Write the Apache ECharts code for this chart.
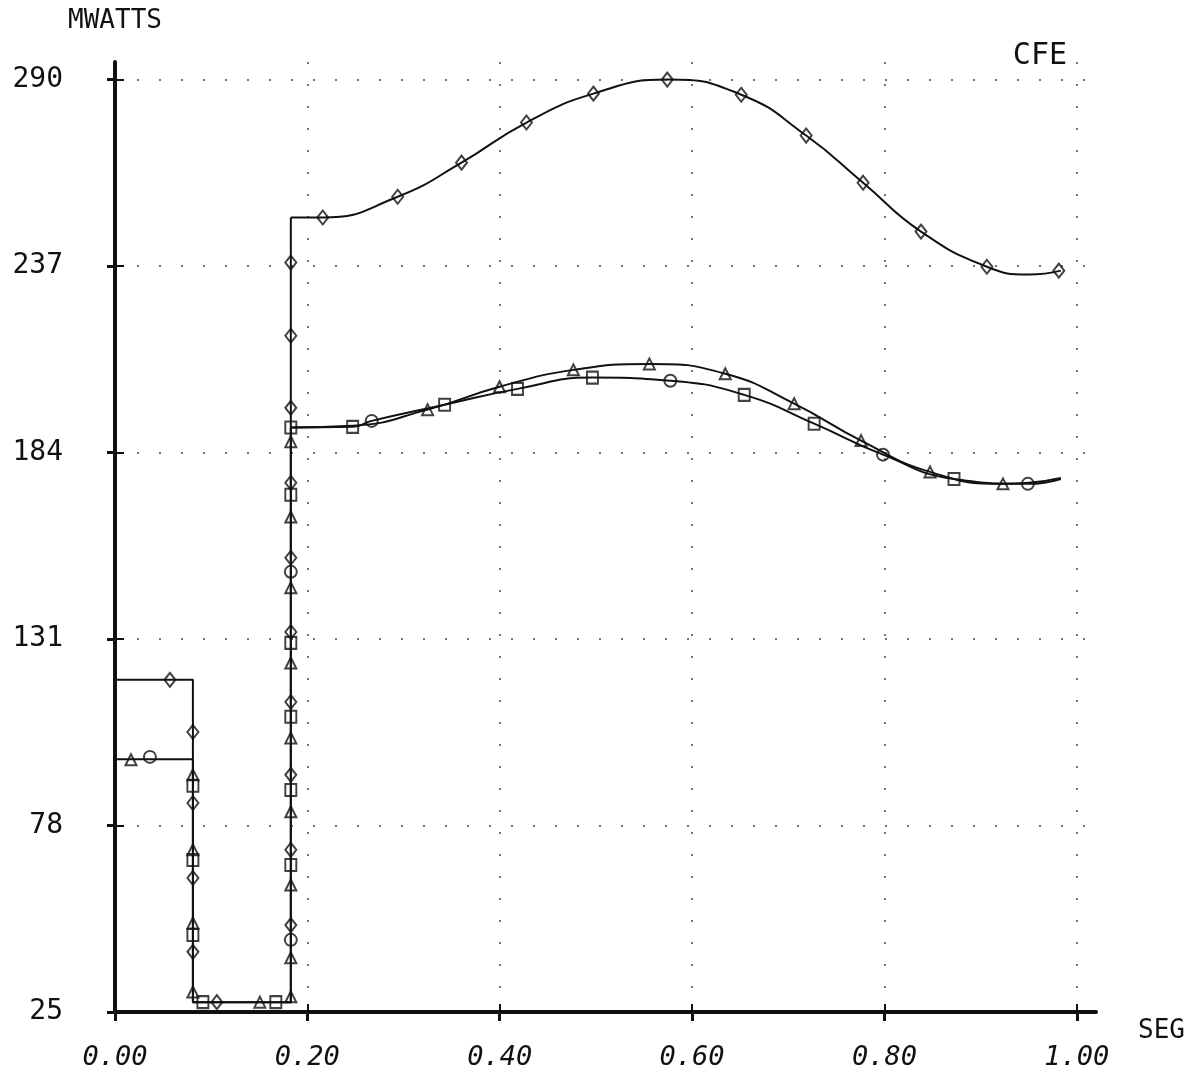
<!DOCTYPE html>
<html>
<head>
<meta charset="utf-8">
<script src="https://cdn.jsdelivr.net/npm/echarts@6/dist/echarts.min.js"></script>
<style>
html,body{margin:0;padding:0;background:#fff;}
#chart{width:1188px;height:1075px;}
</style>
</head>
<body>
<div id="chart"></div>
<script>
// ---- tick labels ----
const xTicks = [0, 0.2, 0.4, 0.6, 0.8, 1.0];
const yTicks = [25, 78, 131, 184, 237, 290];

// ---- step parts (straight segments) ----
const stepTop = [[0, 119.4], [0.081, 119.4], [0.081, 27.8], [0.1828, 27.8], [0.1828, 250.8]];
const stepLow = [[0, 96.8], [0.081, 96.8], [0.081, 27.8], [0.1828, 27.8], [0.1828, 191.1]];

// ---- smooth curves ----
const curveDiamond = [[0.1828, 250.8], [0.2160, 250.8], [0.2939, 256.7], [0.3603, 266.4], [0.4278, 277.8],
  [0.4974, 286.0], [0.5742, 290.0], [0.6511, 285.7], [0.7186, 274.1], [0.7778, 260.7], [0.8380, 246.8],
  [0.9065, 236.8], [0.9502, 234.6], [0.9834, 235.7]];
const curveTriangle = [[0.1828, 191.1], [0.2471, 191.6], [0.3250, 196.2], [0.3998, 202.7], [0.4766, 207.5],
  [0.5556, 209.2], [0.6345, 206.4], [0.7061, 197.9], [0.7757, 187.4], [0.8474, 178.5], [0.9232, 175.1],
  [0.9502, 175.4], [0.9834, 176.8]];
const curveSquare = [[0.1828, 191.1], [0.2471, 191.3], [0.2669, 193.0], [0.3427, 197.6], [0.4185, 202.1],
  [0.4964, 205.3], [0.5774, 204.4], [0.6542, 200.4], [0.7269, 192.2], [0.7985, 183.4], [0.8723, 176.5],
  [0.9491, 175.1], [0.9834, 176.5]];

// ---- marker positions ----
const diamondPts = [[0.0571, 119.4], [0.081, 104.6], [0.081, 84.4], [0.081, 63.1], [0.081, 42.1], [0.1059, 27.8],
  [0.1828, 49.7], [0.1828, 71.1], [0.1828, 92.4], [0.1828, 113.1], [0.1828, 133.0], [0.1828, 154.1],
  [0.1828, 175.4], [0.1828, 196.7], [0.1828, 217.2], [0.1828, 238.0],
  [0.2160, 250.8], [0.2939, 256.7], [0.3603, 266.4], [0.4278, 277.8], [0.4974, 286.0], [0.5742, 290.0],
  [0.6511, 285.7], [0.7186, 274.1], [0.7778, 260.7], [0.8380, 246.8], [0.9065, 236.8], [0.9813, 235.7]];
const trianglePts = [[0.0166, 96.7], [0.081, 92.4], [0.081, 71.1], [0.081, 50.3], [0.081, 30.7], [0.1506, 27.8],
  [0.1828, 29.3], [0.1828, 40.4], [0.1828, 61.1], [0.1828, 81.9], [0.1828, 102.9], [0.1828, 124.2],
  [0.1828, 145.6], [0.1828, 165.7], [0.1828, 187.1],
  [0.3250, 196.2], [0.3998, 202.7], [0.4766, 207.5], [0.5556, 209.2], [0.6345, 206.4], [0.7061, 197.9],
  [0.7757, 187.4], [0.8474, 178.5], [0.9232, 175.1]];
const squarePts = [[0.081, 89.3], [0.081, 68.2], [0.081, 46.9], [0.0914, 27.8], [0.1672, 27.8],
  [0.1828, 66.8], [0.1828, 88.1], [0.1828, 108.9], [0.1828, 129.9], [0.1828, 172.0], [0.1828, 191.1],
  [0.2471, 191.3], [0.3427, 197.6], [0.4185, 202.1], [0.4964, 205.3], [0.6542, 200.4], [0.7269, 192.2],
  [0.8723, 176.5]];
const circlePts = [[0.0363, 97.5], [0.1828, 45.5], [0.1828, 150.1], [0.2669, 193.0], [0.5774, 204.4],
  [0.7985, 183.4], [0.9491, 175.1]];

const FONT = '"DejaVu Sans Mono", "Liberation Mono", monospace';
const INK = '#111';

const lineBase = {type: 'line', symbol: 'none', xAxisIndex: 0, yAxisIndex: 0,
  lineStyle: {color: INK, width: 2}, z: 2};
const markBase = {type: 'scatter', xAxisIndex: 0, yAxisIndex: 0, z: 3,
  itemStyle: {color: 'rgba(0,0,0,0)', borderColor: INK, borderWidth: 2}};

const chart = echarts.init(document.getElementById('chart'), null, {renderer: 'canvas'});
chart.setOption({
  backgroundColor: '#fff',
  animation: false,
  title: {text: 'CFE', right: 116, top: 36,
    textStyle: {fontFamily: FONT, fontSize: 30, fontWeight: 'normal', color: INK}},
  grid: {left: 115, right: 90, top: 62, bottom: 63},
  xAxis: [
    {type: 'value', min: 0, max: 1.02, position: 'bottom',
      axisLine: {show: true, onZero: false, lineStyle: {color: INK, width: 4}},
      axisTick: {show: true, customValues: xTicks, length: 9, lineStyle: {color: INK, width: 3}},
      axisLabel: {customValues: xTicks, formatter: v => v.toFixed(2), margin: 32,
        fontFamily: FONT, fontSize: 27, fontStyle: 'italic', color: INK},
      splitLine: {show: true, lineStyle: {type: [2, 20], color: '#444', width: 1.5}},
      name: 'SEG', nameLocation: 'end', nameGap: 42,
      nameTextStyle: {fontFamily: FONT, fontSize: 26, color: INK, verticalAlign: 'top', padding: [6, 0, 0, 0]}},
    {type: 'value', min: 0, max: 1.02, position: 'bottom',
      axisLine: {show: false}, axisLabel: {show: false}, splitLine: {show: false},
      axisTick: {show: true, inside: true, customValues: xTicks, length: 8, lineStyle: {color: INK, width: 2}}}
  ],
  yAxis: [
    {type: 'value', min: 25, max: 295, position: 'left',
      axisLine: {show: true, onZero: false, lineStyle: {color: INK, width: 4}},
      axisTick: {show: true, customValues: yTicks, length: 8, lineStyle: {color: INK, width: 3}},
      axisLabel: {customValues: yTicks, margin: 52, fontFamily: FONT, fontSize: 28, color: INK,
        padding: [0, 0, 10, 0]},
      splitLine: {show: true, lineStyle: {type: [2, 20], color: '#444', width: 1.5}},
      name: 'MWATTS', nameLocation: 'end', nameGap: 28,
      nameTextStyle: {fontFamily: FONT, fontSize: 26, color: INK, align: 'center'}},
    {type: 'value', min: 25, max: 295, position: 'left',
      axisLine: {show: false}, axisLabel: {show: false}, splitLine: {show: false},
      axisTick: {show: true, inside: true, customValues: yTicks, length: 9, lineStyle: {color: INK, width: 2}}}
  ],
  series: [
    Object.assign({}, lineBase, {name: 'stepTop', data: stepTop}),
    Object.assign({}, lineBase, {name: 'stepLow', data: stepLow}),
    Object.assign({}, lineBase, {name: 'diamond', data: curveDiamond, smooth: 0.5}),
    Object.assign({}, lineBase, {name: 'triangle', data: curveTriangle, smooth: 0.5}),
    Object.assign({}, lineBase, {name: 'square', data: curveSquare, smooth: 0.5}),
    Object.assign({}, markBase, {name: 'diamondMk', data: diamondPts, symbol: 'diamond', symbolSize: [11, 14]}),
    Object.assign({}, markBase, {name: 'triangleMk', data: trianglePts, symbol: 'triangle', symbolSize: 11}),
    Object.assign({}, markBase, {name: 'squareMk', data: squarePts, symbol: 'rect', symbolSize: [11, 12]}),
    Object.assign({}, markBase, {name: 'circleMk', data: circlePts, symbol: 'circle', symbolSize: 12})
  ]
});
</script>
</body>
</html>
